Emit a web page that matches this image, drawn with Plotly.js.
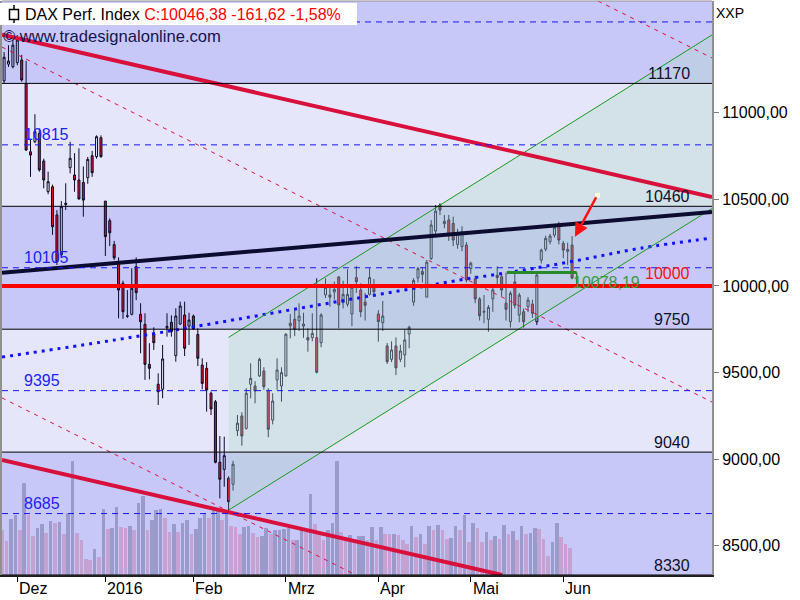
<!DOCTYPE html>
<html><head><meta charset="utf-8">
<script src="https://cdn.plot.ly/plotly-3.0.1.min.js"></script>
<style>html,body{margin:0;padding:0;background:#fff}#chart{width:800px;height:600px}</style>
</head><body><div id="chart"></div>
<script>
// ---------- data ----------
const monthLabels = ['Dez','2016','Feb','Mrz','Apr','Mai','Jun'];
const monthStart  = [3, 23, 43, 64, 85, 106, 127];

const open = [11185,11281,11266,11290,11305,11170,10775,10833,10882,10722,10545,10573,10410,10180,10470,10683,10641,10612,10598,10625,10752,10747,10856,
10490,10377,10239,10140,10015,9825,9836,10111,9836,9778,9547,9722,9432,9403,9758,9790,9597,9780,9832,9768,
9826,9720,9543,9524,9380,9331,8981,8940,8889,8854,9164,9249,9177,9432,9422,9480,9509,9395,9225,9457,9422,
9480,9770,9807,9799,9768,9701,9701,9701,9672,9948,9948,9965,10052,9903,9894,9838,10048,9976,9907,9951,9995,
9838,9788,9653,9576,9653,9576,9601,9722,9907,10046,10083,9935,10158,10317,10467,10360,10381,10361,10240,10227,10236,
10100,10041,9925,9848,9807,9925,10062,10053,9900,9793,10023,9832,9851,9880,9895,9793,10149,10212,10256,10294,10346,
10246,10200,10236];
const high = [11351,11390,11421,11450,11335,11300,10850,10992,10910,10735,10660,10585,10438,10490,10593,10833,10767,10795,10690,10745,10780,10870,10870,
10490,10390,10260,10165,10030,9976,10102,10165,9900,9842,9669,9761,9495,9659,9842,9830,9871,9909,9909,9845,
9835,9755,9582,9560,9390,9341,9133,9129,8900,8990,9254,9270,9409,9553,9450,9585,9530,9409,9380,9582,9530,
9727,9838,9860,9900,9845,9755,9842,10044,9842,10044,9995,10025,10055,10030,10096,9995,10115,10015,9960,10102,10040,
9860,9913,9670,9680,9703,9660,9750,9770,10045,10110,10110,10150,10380,10467,10477,10410,10410,10400,10330,10345,10254,
10140,10060,9935,9947,9890,9990,10113,10070,10078,9970,10072,9960,9870,9935,9920,10078,10215,10290,10300,10345,10371,
10260,10250,10288];
const low = [11172,11265,11257,11275,11180,10780,10630,10825,10660,10564,10530,10295,10121,10170,10438,10650,10544,10500,10400,10590,10630,10735,10740,
10173,10230,10150,9813,9810,9815,9830,9918,9611,9457,9460,9630,9312,9351,9707,9707,9562,9775,9595,9659,
9745,9537,9403,9274,9254,8975,8773,8840,8700,8817,9133,9077,9170,9351,9322,9475,9400,9126,9200,9400,9331,
9476,9697,9710,9740,9700,9620,9680,9495,9646,9930,9880,9920,9755,9870,9880,9768,9960,9820,9800,9945,9940,
9678,9740,9549,9560,9485,9560,9530,9640,9885,10020,10020,9935,10150,10300,10410,10333,10260,10230,10215,10200,10020,
10070,9900,9800,9784,9735,9850,10000,9940,9800,9760,9870,9790,9760,9850,9815,9774,10130,10200,10240,10280,10240,
10160,10120,10038];
const close = [11321,11299,11391,11420,11190,10785,10756,10891,10670,10612,10602,10342,10140,10458,10477,10737,10612,10502,10496,10731,10654,10862,10747,
10285,10307,10162,9976,9851,9827,9986,9961,9793,9547,9524,9672,9389,9578,9766,9736,9826,9884,9640,9803,
9753,9582,9437,9399,9289,8981,8883,9019,8753,8970,9207,9133,9380,9466,9393,9576,9418,9172,9335,9514,9499,
9721,9784,9749,9826,9780,9688,9726,9501,9832,9992,9935,9980,9890,9951,9951,9992,10025,9851,9888,10048,9966,
9794,9826,9562,9630,9527,9624,9688,9761,10031,10100,10067,10137,10352,10432,10438,10373,10294,10265,10300,10313,10034,
10131,9925,9828,9853,9876,9977,10048,9976,9865,9957,9888,9947,9793,9918,9842,10063,10207,10275,10288,10339,10265,
10207,10211,10046];
const volume = [90,68,113,120,90,185,120,78,95,102,85,109,105,107,83,125,228,85,70,33,30,53,37,
132,92,95,137,97,95,98,91,145,158,91,111,131,133,115,87,103,87,105,110,
82,93,115,125,115,130,131,110,125,98,97,83,97,98,85,77,78,95,83,90,91,
93,95,70,70,90,87,162,103,87,70,91,105,228,87,77,80,73,78,78,70,97,
70,97,83,82,82,80,71,63,98,77,83,63,98,90,100,90,73,75,98,91,120,67,
104,95,67,86,70,78,73,100,83,89,70,98,83,84,95,93,73,38,67,104,76,
62,55];

const solidLevels = [11170, 10460, 9750, 9040, 8330];
const solidLabels = ['11170', '10460', '9750', '9040', '8330'];
const dashLevels  = [11525, 10815, 10105, 9395, 8685];
const dashLabels  = ['', '10815', '10105', '9395', '8685'];
const keyLevel = 10000, keyLabel = '10000';
const supportLevel = 10078.19, supportLabel = '10078,19';
const supportX = [114.2, 130.05];
const supportTickY = [10078.19, 9988];

const channelLowerX = [51, 160.78], channelLowerY = [8705, 10447];
const channelUpperX = [51, 160.78], channelUpperY = [9703, 11450];
const redUpperX = [-0.475, 160.78], redUpperY = [11452, 10514];
const redLowerX = [-0.475, 113.1], redLowerY = [8994, 8330];
const navyX = [-0.475, 160.78], navyY = [10076, 10427];
const dashAX = [-0.475, 160.78], dashAY = [11380, 9329];
const dashBX = [134.9, 160.78], dashBY = [11646, 11317];
const dashCX = [-0.475, 79.9], dashCY = [9353, 8330];
const avgX = [-0.475, 21.8, 35.4, 49.0, 62.7, 76.3, 89.9, 103.5, 117.2, 130.8, 144.4, 160.78];
const avgY = [9589, 9674, 9730, 9790, 9851, 9912, 9972, 10034, 10088, 10150, 10217, 10277];
const arrowTip = [129.66, 10284];

const yTicks = [8500, 9000, 9500, 10000, 10500, 11000];
const titleName = 'DAX Perf. Index';
const titleQuote = 'C:10046,38 -161,62 -1,58%';
const sourceText = '© www.tradesignalonline.com';
const unitText = 'XXP';

// ---------- drawing ----------
const idx = close.map((_, i) => i);
const XR = [-0.475, 160.78];
const YR = [8330, 11646];
const PX = p => (p - 2) / 710;
const PY = p => (575 - p) / 574;
const FONT = 'Liberation Sans, Arial, sans-serif';

const volColors = volume.map((v, i) => (i > 0 && v >= volume[i - 1]) ? '#9b9bcb' : '#c4a3d3');

const traces = [];
traces.push({type: 'bar', x: idx, y: volume, yaxis: 'y', xaxis: 'x',
  marker: {color: volColors, line: {width: 0}}, width: 0.82, offset: -0.86, hoverinfo: 'skip'});
// channel fill
traces.push({type: 'scatter', mode: 'lines', yaxis: 'y2',
  x: [channelLowerX[0], channelLowerX[1], channelUpperX[1], channelUpperX[0]],
  y: [channelLowerY[0], channelLowerY[1], channelUpperY[1], channelUpperY[0]],
  fill: 'toself', fillcolor: 'rgba(176,216,200,0.35)', line: {width: 0}, hoverinfo: 'skip'});
traces.push({type: 'candlestick', x: idx, open: open, high: high, low: low, close: close, yaxis: 'y2',
  increasing: {line: {color: '#0a0a28', width: 1}, fillcolor: 'rgba(0,0,0,0)'},
  decreasing: {line: {color: '#0a0a28', width: 1}, fillcolor: '#e0102a'},
  whiskerwidth: 0, hoverinfo: 'skip'});
function line(x, y, color, width, dash, shape) {
  traces.push({type: 'scatter', mode: 'lines', x: x, y: y, yaxis: 'y2',
    line: {color: color, width: width, dash: dash || 'solid', shape: shape || 'linear'}, hoverinfo: 'skip'});
}
line(avgX, avgY, '#1010ff', 3, '3px,5px', 'spline');
line(dashAX, dashAY, '#d8103c', 1, '4px,5px');
line(dashBX, dashBY, '#d8103c', 1, '4px,5px');
line(dashCX, dashCY, '#d8103c', 1, '4px,5px');
line(channelLowerX, channelLowerY, '#1a9a1a', 1, 'solid');
line(channelUpperX, channelUpperY, '#1a9a1a', 1, 'solid');
line(redUpperX, redUpperY, '#d8103c', 4);
line(redLowerX, redLowerY, '#d8103c', 4);
line(navyX, navyY, '#0c0c30', 4);
line(supportX, [supportLevel, supportLevel], '#2a8a2a', 3);
line([supportX[1], supportX[1]], supportTickY, '#2a8a2a', 1.5);

const shapes = [];
// light bands
[[0, 1], [2, 3]].forEach(([a, b]) => shapes.push({type: 'rect', xref: 'paper', yref: 'y2', x0: 0, x1: 1,
  y0: solidLevels[b], y1: solidLevels[a], fillcolor: '#e6e6fa', line: {width: 0}, layer: 'below'}));
solidLevels.forEach(v => shapes.push({type: 'line', xref: 'paper', yref: 'y2', x0: 0, x1: 1, y0: v, y1: v,
  line: {color: '#000000', width: 1}, layer: 'above'}));
dashLevels.forEach(v => shapes.push({type: 'line', xref: 'paper', yref: 'y2', x0: 0, x1: 1, y0: v, y1: v,
  line: {color: '#1515ff', width: 1, dash: '6px,5px'}, layer: 'above'}));
shapes.push({type: 'line', xref: 'paper', yref: 'y2', x0: 0, x1: 1, y0: keyLevel, y1: keyLevel,
  line: {color: '#ff0000', width: 4}, layer: 'above'});
// top border
shapes.push({type: 'line', xref: 'paper', yref: 'paper', x0: 0, x1: 1, y0: 1, y1: 1, line: {color: '#909090', width: 1}});
// title box + icon
shapes.push({type: 'rect', xref: 'paper', yref: 'paper', x0: PX(0), x1: PX(357), y0: PY(25), y1: PY(3),
  fillcolor: '#ffffff', line: {width: 0}, layer: 'above'});
shapes.push({type: 'line', xref: 'paper', yref: 'paper', x0: PX(14), x1: PX(14), y0: PY(5), y1: PY(23),
  line: {color: '#000', width: 1.5}, layer: 'above'});
shapes.push({type: 'rect', xref: 'paper', yref: 'paper', x0: PX(9.5), x1: PX(18.5), y0: PY(19.5), y1: PY(9.5),
  fillcolor: '#ffffff', line: {color: '#000', width: 1.5}, layer: 'above'});
// arrow start marker
shapes.push({type: 'rect', xref: 'paper', yref: 'paper', x0: PX(595), x1: PX(600), y0: PY(198), y1: PY(193),
  fillcolor: '#ffffd8', line: {width: 0}, layer: 'above'});

const ann = [];
const f = (size, color) => ({family: FONT, size: size, color: color});
solidLevels.forEach((v, i) => ann.push({xref: 'paper', yref: 'y2', x: PX(692), y: v, xanchor: 'right', yanchor: 'middle',
  yshift: 10, text: solidLabels[i], showarrow: false, font: f(16, '#101028')}));
dashLevels.forEach((v, i) => { if (dashLabels[i]) ann.push({xref: 'paper', yref: 'y2', x: PX(22), y: v, xanchor: 'left',
  yanchor: 'middle', yshift: 10, text: dashLabels[i], showarrow: false, font: f(16, '#2020ff')}); });
ann.push({xref: 'paper', yref: 'y2', x: PX(692), y: keyLevel, xanchor: 'right', yanchor: 'middle', yshift: 12,
  text: keyLabel, showarrow: false, font: f(16, '#ff1010')});
ann.push({xref: 'paper', yref: 'y2', x: PX(571), y: supportLevel, xanchor: 'left', yanchor: 'middle', yshift: -10,
  text: supportLabel, showarrow: false, font: f(16, '#3a9a3a')});
ann.push({xref: 'x', yref: 'y2', x: arrowTip[0], y: arrowTip[1], ax: 22, ay: -41, text: '', showarrow: true,
  arrowhead: 2, arrowsize: 1.1, arrowwidth: 2.5, arrowcolor: '#ff1010'});
ann.push({xref: 'paper', yref: 'paper', x: PX(23), y: PY(14), xanchor: 'left', yanchor: 'middle',
  text: titleName + ' <span style="color:#ff0000">' + titleQuote + '</span>', showarrow: false, font: f(16, '#000000')});
ann.push({xref: 'paper', yref: 'paper', x: PX(1), y: PY(36), xanchor: 'left', yanchor: 'middle',
  text: sourceText, showarrow: false, font: f(16.6, '#141450')});
ann.push({xref: 'paper', yref: 'paper', x: PX(714), y: PY(13), xanchor: 'left', yanchor: 'middle',
  text: unitText, showarrow: false, font: f(14, '#000000')});
monthStart.forEach((m, i) => ann.push({xref: 'x', yref: 'paper', x: m, y: 0, xanchor: 'left', yanchor: 'top',
  yshift: -3, text: monthLabels[i], showarrow: false, font: f(16, '#000000')}));

const layout = {
  width: 800, height: 600, margin: {l: 2, r: 88, t: 1, b: 25, pad: 0},
  paper_bgcolor: '#ffffff', plot_bgcolor: '#c8c8f8', showlegend: false,
  separators: ',.', font: {family: FONT, size: 16, color: '#000'},
  xaxis: {range: XR, showgrid: false, zeroline: false, showline: true, linecolor: '#202020', linewidth: 1.5,
    tickvals: monthStart, ticks: 'outside', ticklen: 5, tickcolor: '#000', showticklabels: false,
    rangeslider: {visible: false}, fixedrange: true},
  yaxis: {range: [0, 1150], visible: false, fixedrange: true},
  yaxis2: {range: YR, overlaying: 'y', side: 'right', showgrid: false, zeroline: false,
    showline: true, linecolor: '#909090', linewidth: 2, mirror: true,
    tickvals: yTicks, tickformat: '.2f', ticks: 'outside', ticklen: 5, tickcolor: '#808080',
    tickfont: {family: FONT, size: 16, color: '#000'}, fixedrange: true},
  shapes: shapes, annotations: ann, bargap: 0, boxgap: 0.35
};
Plotly.newPlot('chart', traces, layout, {displayModeBar: false, staticPlot: true});
</script></body></html>
